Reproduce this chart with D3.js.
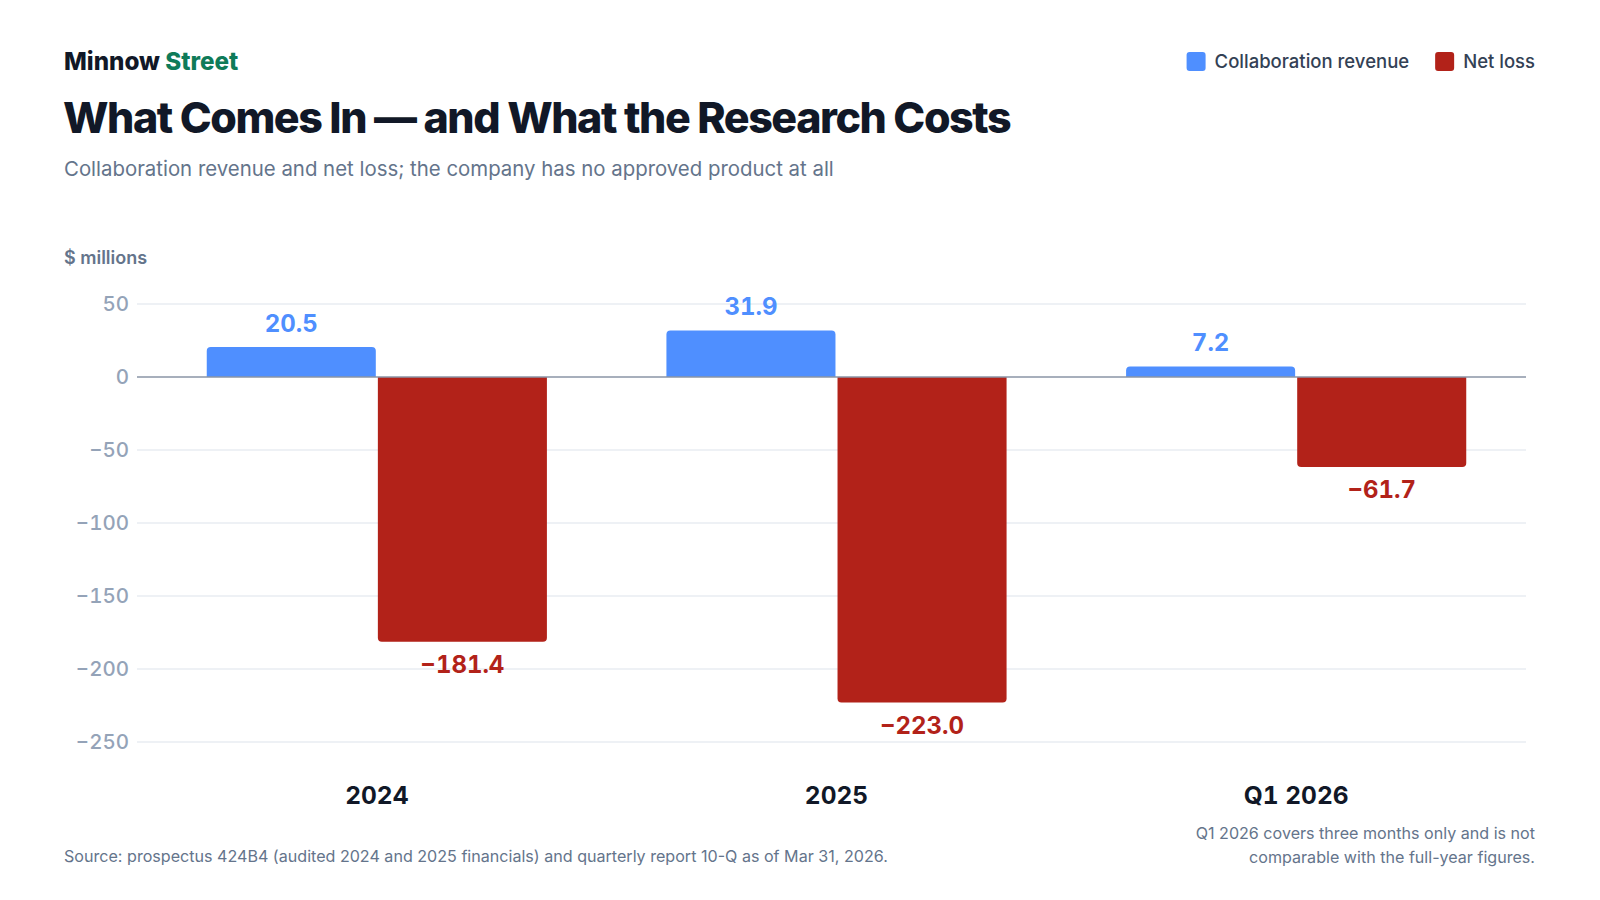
<!DOCTYPE html>
<html>
<head>
<meta charset="utf-8">
<script src="https://cdn.jsdelivr.net/npm/d3@7"></script>
<style>
  body { margin: 0; background: #fff; }
  svg { display: block; font-family: Inter, "Noto Sans", sans-serif; }
  .num { font-variant-numeric: tabular-nums; font-feature-settings: "tnum" 1; }
</style>
</head>
<body>
<div id="chart"></div>
<script>
// Data
const categories = ["2024", "2025", "Q1 2026"];
const seriesNames = ["Collaboration revenue", "Net loss"];
const revenue = [20.5, 31.9, 7.2];
const netLoss = [-181.4, -223.0, -61.7];
const yTicks = [50, 0, -50, -100, -150, -200, -250];

const colors = { "Collaboration revenue": "#4f8fff", "Net loss": "#b22219" };

const W = 1600, H = 900;

const svg = d3.select("#chart")
  .append("svg")
  .attr("width", W)
  .attr("height", H);

// Header
const brand = svg.append("text")
  .attr("x", 64).attr("y", 70)
  .attr("font-size", 24.2).attr("font-weight", 800)
  .attr("fill", "#111827");
brand.append("tspan").text("Minnow ");
brand.append("tspan").attr("fill", "#0f7b59").text("Street");

svg.append("text")
  .attr("x", 63).attr("y", 133)
  .attr("font-size", 43).attr("font-weight", 800)
  .attr("letter-spacing", -1.45)
  .attr("fill", "#111827")
  .text("What Comes In — and What the Research Costs");

svg.append("text")
  .attr("x", 64).attr("y", 176)
  .attr("font-size", 20.4)
  .attr("fill", "#64748b")
  .text("Collaboration revenue and net loss; the company has no approved product at all");

// Legend (right aligned)
const legend = svg.append("g");
let lx = 1535;
seriesNames.slice().reverse().forEach(name => {
  const t = legend.append("text")
    .attr("y", 68)
    .attr("font-size", 18.5).attr("font-weight", 500)
    .attr("fill", "#334155")
    .text(name);
  const w = t.node().getComputedTextLength();
  lx -= w;
  t.attr("x", lx);
  legend.append("rect")
    .attr("x", lx - 28).attr("y", 52)
    .attr("width", 19).attr("height", 19)
    .attr("rx", 3)
    .attr("fill", colors[name]);
  lx -= 28 + 26;
});

// Axis unit label
svg.append("text")
  .attr("x", 64).attr("y", 264)
  .attr("font-size", 18).attr("font-weight", 600)
  .attr("fill", "#64748b")
  .text("$ millions");

// Scales
const y = d3.scaleLinear().domain([-250, 50]).range([742, 304]);

const x0 = d3.scaleBand()
  .domain(categories)
  .range([147, 1526])
  .paddingInner(0.26)
  .paddingOuter(0.13);

const x1 = d3.scaleBand()
  .domain(seriesNames)
  .range([0, x0.bandwidth()])
  .paddingInner(0.012);

const fmt = v => (v < 0 ? "\u2212" : "") + Math.abs(v).toFixed(1);
const fmtTick = v => (v < 0 ? "\u2212" : "") + Math.abs(v);

// Grid lines and y ticks
const grid = svg.append("g");
grid.selectAll("line")
  .data(yTicks.filter(d => d !== 0))
  .enter().append("line")
  .attr("x1", 137).attr("x2", 1526)
  .attr("y1", d => y(d)).attr("y2", d => y(d))
  .attr("stroke", "#e9edf2").attr("stroke-width", 1.5);

grid.selectAll("text")
  .data(yTicks)
  .enter().append("text")
  .attr("class", "num")
  .attr("x", 129)
  .attr("y", d => y(d) + 7)
  .attr("text-anchor", "end")
  .attr("font-size", 20.5).attr("font-weight", 500)
  .attr("fill", "#94a3b8")
  .text(fmtTick);

// Bars
const rows = categories.map((c, i) => ({
  cat: c,
  values: [
    { key: "Collaboration revenue", value: revenue[i] },
    { key: "Net loss", value: netLoss[i] }
  ]
}));

function barPath(x, w, v) {
  const r = 4;
  const y0 = y(0), y1 = y(v);
  if (v >= 0) {
    return `M${x},${y0}V${y1 + r}Q${x},${y1} ${x + r},${y1}H${x + w - r}Q${x + w},${y1} ${x + w},${y1 + r}V${y0}Z`;
  }
  return `M${x},${y0}V${y1 - r}Q${x},${y1} ${x + r},${y1}H${x + w - r}Q${x + w},${y1} ${x + w},${y1 - r}V${y0}Z`;
}

const groups = svg.append("g")
  .selectAll("g")
  .data(rows)
  .enter().append("g")
  .attr("transform", d => `translate(${x0(d.cat)},0)`);

groups.selectAll("path")
  .data(d => d.values)
  .enter().append("path")
  .attr("d", d => barPath(x1(d.key), x1.bandwidth(), d.value))
  .attr("fill", d => colors[d.key]);

groups.selectAll("text.value")
  .data(d => d.values)
  .enter().append("text")
  .attr("class", "value num")
  .attr("x", d => x1(d.key) + x1.bandwidth() / 2)
  .attr("y", d => d.value >= 0 ? y(d.value) - 15 : y(d.value) + 31)
  .attr("text-anchor", "middle")
  .attr("font-size", 24).attr("font-weight", 700)
  .attr("fill", d => colors[d.key])
  .text(d => fmt(d.value));

// Zero line
svg.append("line")
  .attr("x1", 137).attr("x2", 1526)
  .attr("y1", y(0)).attr("y2", y(0))
  .attr("stroke", "#8a94a6").attr("stroke-width", 1.5);

// Category labels
svg.append("g")
  .selectAll("text")
  .data(categories)
  .enter().append("text")
  .attr("class", "num")
  .attr("x", d => x0(d) + x0.bandwidth() / 2)
  .attr("y", 804)
  .attr("text-anchor", "middle")
  .attr("font-size", 24.5).attr("font-weight", 700)
  .attr("fill", "#111827")
  .text(d => d);

// Footer
svg.append("text")
  .attr("x", 64).attr("y", 862)
  .attr("font-size", 16.1)
  .attr("fill", "#64748b")
  .text("Source: prospectus 424B4 (audited 2024 and 2025 financials) and quarterly report 10-Q as of Mar 31, 2026.");

const noteLines = [
  "Q1 2026 covers three months only and is not",
  "comparable with the full-year figures."
];
svg.append("g")
  .selectAll("text")
  .data(noteLines)
  .enter().append("text")
  .attr("x", 1535)
  .attr("y", (d, i) => 839 + i * 24)
  .attr("text-anchor", "end")
  .attr("font-size", 16.1)
  .attr("fill", "#64748b")
  .text(d => d);
</script>
</body>
</html>
